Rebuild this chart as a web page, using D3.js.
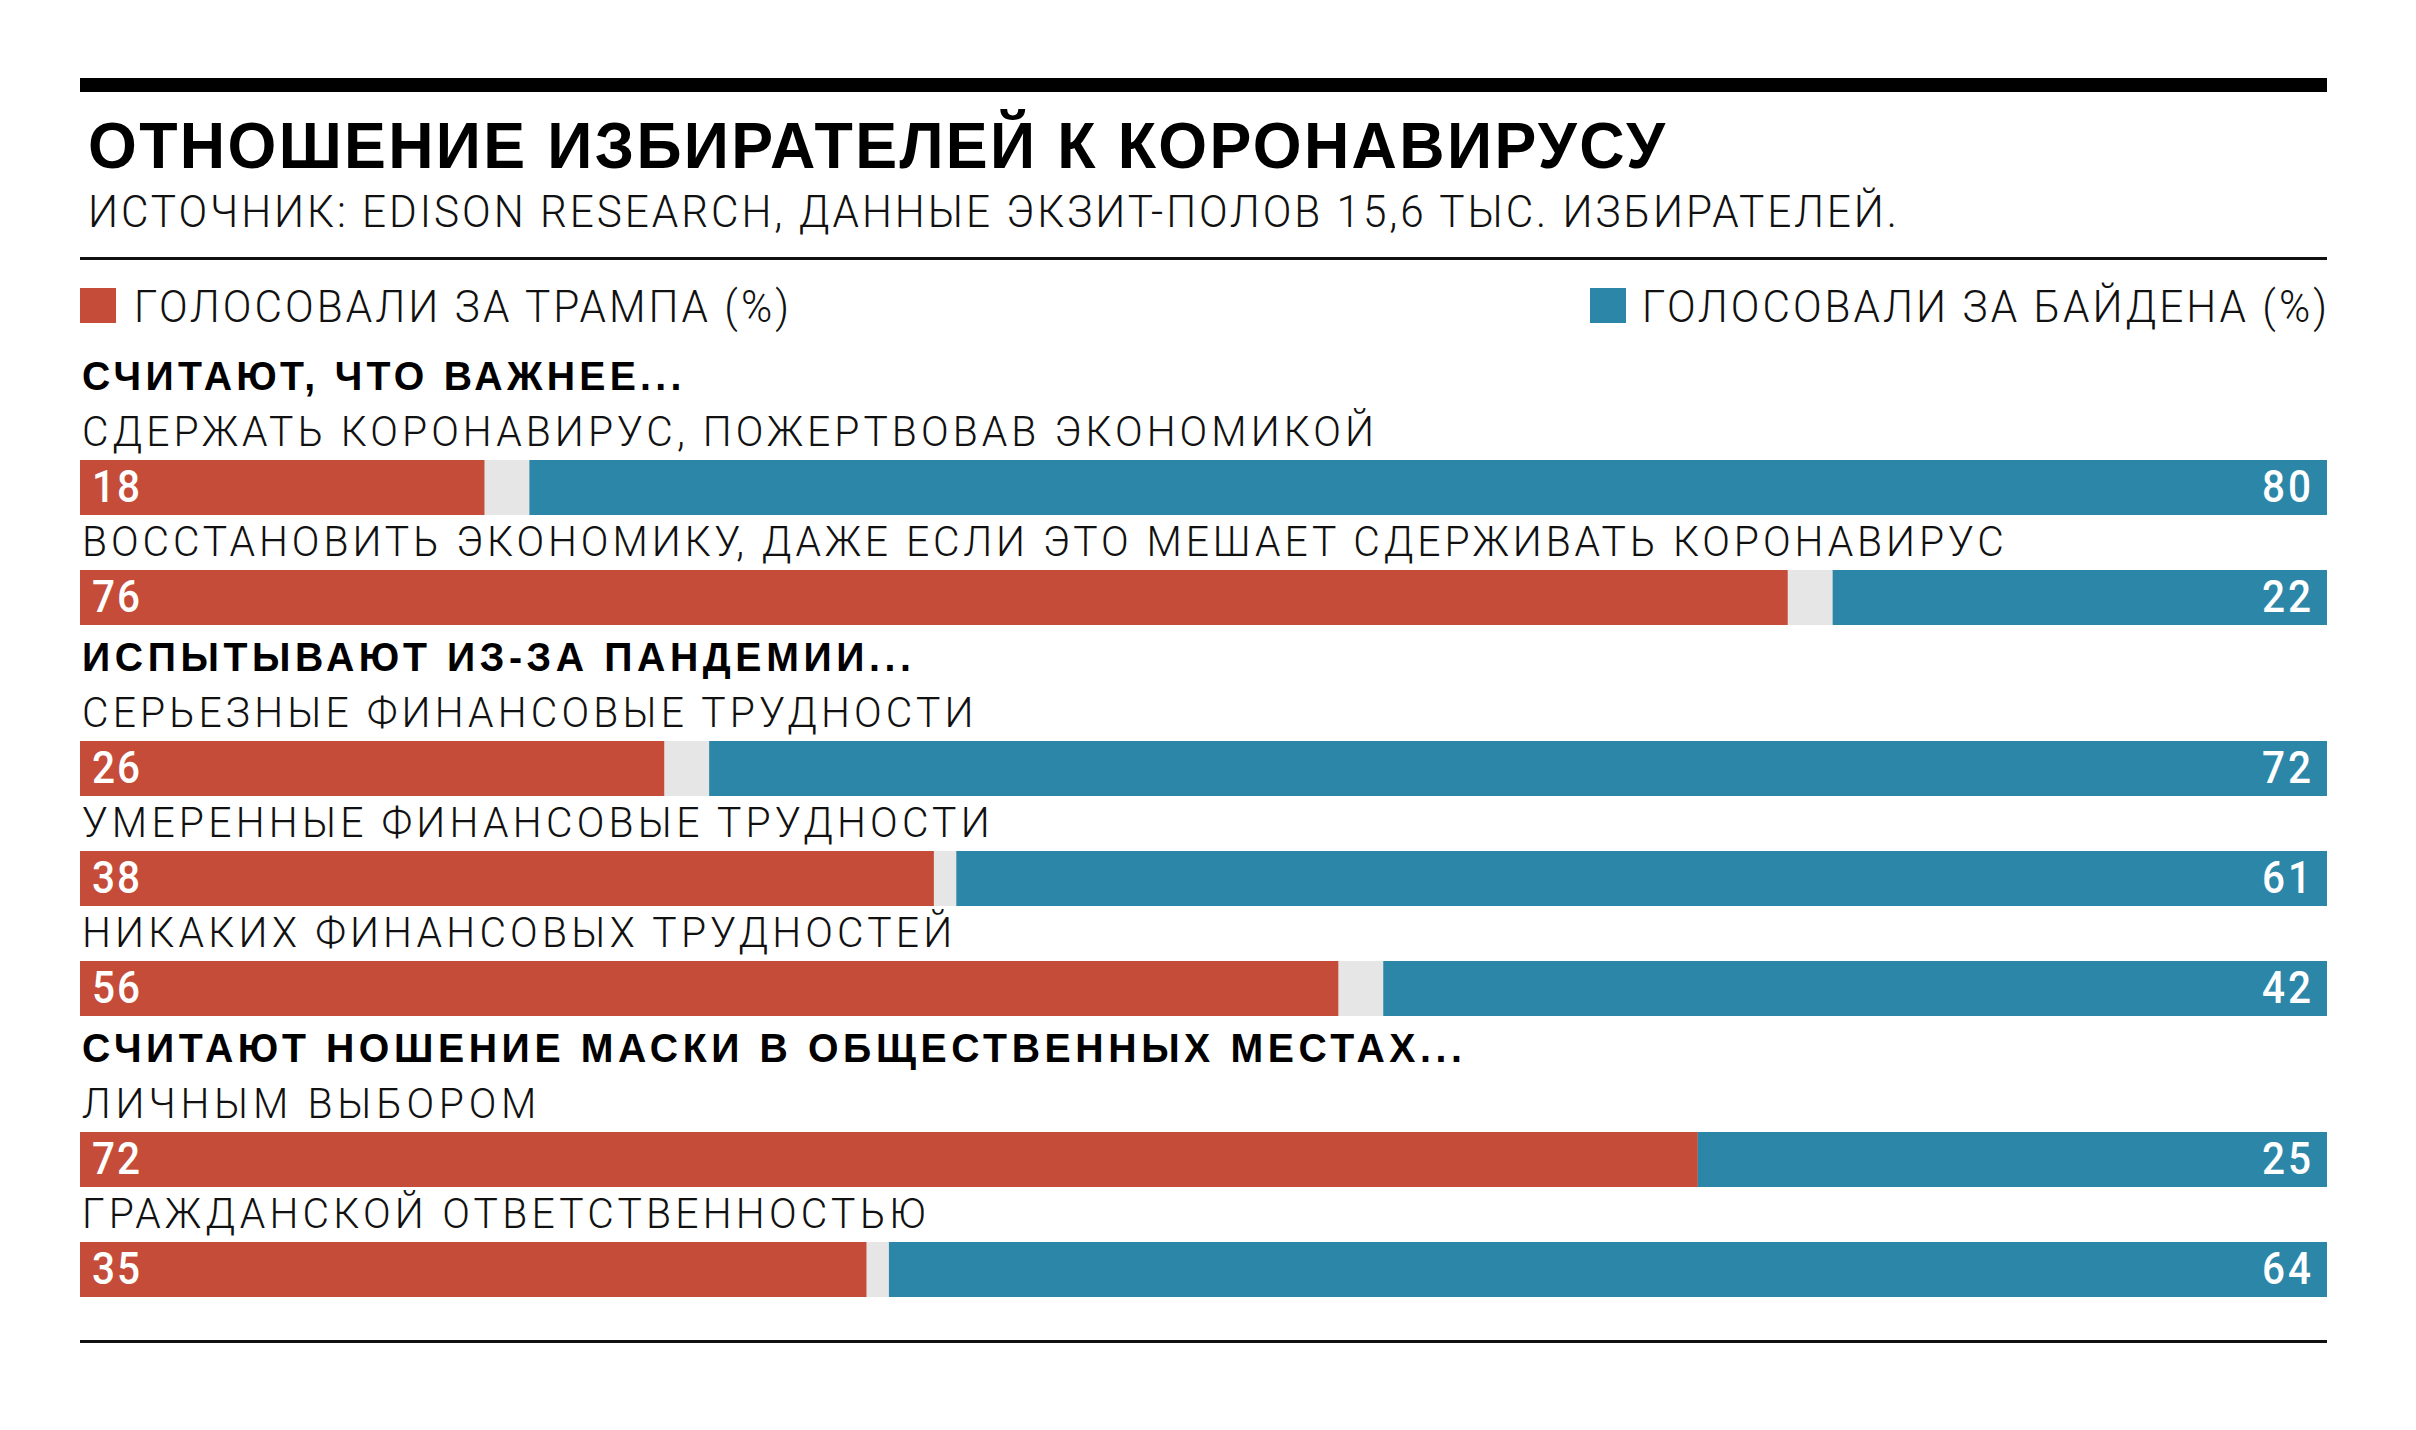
<!DOCTYPE html>
<html><head><meta charset="utf-8">
<script src="https://cdn.jsdelivr.net/npm/d3@7"></script>
<style>html,body{margin:0;padding:0;background:#fff}svg{display:block}</style>
</head><body>
<svg id="chart"></svg>
<script>
// ---------- DATA ----------
const title = "ОТНОШЕНИЕ ИЗБИРАТЕЛЕЙ К КОРОНАВИРУСУ";
const subtitle = "ИСТОЧНИК: EDISON RESEARCH, ДАННЫЕ ЭКЗИТ-ПОЛОВ 15,6 ТЫС. ИЗБИРАТЕЛЕЙ.";
const seriesNames = ["ГОЛОСОВАЛИ ЗА ТРАМПА (%)", "ГОЛОСОВАЛИ ЗА БАЙДЕНА (%)"];
const sections = [
  "СЧИТАЮТ, ЧТО ВАЖНЕЕ...",
  "ИСПЫТЫВАЮТ ИЗ-ЗА ПАНДЕМИИ...",
  "СЧИТАЮТ НОШЕНИЕ МАСКИ В ОБЩЕСТВЕННЫХ МЕСТАХ..."
];
const categories = [
  "СДЕРЖАТЬ КОРОНАВИРУС, ПОЖЕРТВОВАВ ЭКОНОМИКОЙ",
  "ВОССТАНОВИТЬ ЭКОНОМИКУ, ДАЖЕ ЕСЛИ ЭТО МЕШАЕТ СДЕРЖИВАТЬ КОРОНАВИРУС",
  "СЕРЬЕЗНЫЕ ФИНАНСОВЫЕ ТРУДНОСТИ",
  "УМЕРЕННЫЕ ФИНАНСОВЫЕ ТРУДНОСТИ",
  "НИКАКИХ ФИНАНСОВЫХ ТРУДНОСТЕЙ",
  "ЛИЧНЫМ ВЫБОРОМ",
  "ГРАЖДАНСКОЙ ОТВЕТСТВЕННОСТЬЮ"
];
const categorySection = [0, 0, 1, 1, 1, 2, 2];
const trump = [18, 76, 26, 38, 56, 72, 35];
const biden = [80, 22, 72, 61, 42, 25, 64];
const other = [2, 2, 2, 1, 2, 0, 1];   // grey gap between the two bars, as drawn

// ---------- LAYOUT ----------
const W = 2416, H = 1430;
const L = 80, R = 2327;
const RED = "#C54C38", BLUE = "#2C86A8", GREY = "#E6E6E6";
const FONT = "'Liberation Sans',Arial,Helvetica,sans-serif";
const LIGHT = "Roboto,'Liberation Sans',Arial,sans-serif";

const svg = d3.select("#chart").attr("width", W).attr("height", H)
  .style("font-family", FONT);
svg.append("rect").attr("width", W).attr("height", H).attr("fill", "#fff");

const x = d3.scaleLinear().domain([0, 100]).range([L, R]);

// condense glyphs by c, then fill to the target width with letter spacing.
function fit(sel, refIndex, targetWidth, c, xs, anchorRight) {
  const nodes = sel.nodes();
  const nat = nodes.map(n => n.getComputedTextLength());
  const k = targetWidth / (nat[refIndex] * c);
  nodes.forEach((n, i) => {
    const len = nat[i] * k;
    const d = d3.select(n).datum();
    const px = typeof xs === "function" ? xs(d, i) : xs;
    const vx = anchorRight ? px - len * c : px;
    n.setAttribute("textLength", len);
    n.setAttribute("lengthAdjust", "spacing");
    n.setAttribute("transform", `scale(${c},1)`);
    n.setAttribute("x", vx / c);
  });
}

// top thick rule
svg.append("rect").attr("x", L).attr("y", 78).attr("width", R - L).attr("height", 14).attr("fill", "#000");

// title & subtitle
const tTitle = svg.append("text").datum(title).attr("y", 168)
  .attr("font-size", 64).attr("font-weight", 700).attr("fill", "#000").text(title);
fit(tTitle, 0, 1577, 0.98, 88);
const tSub = svg.append("text").datum(subtitle).attr("y", 227)
  .style("font-family", LIGHT).attr("font-size", 45).attr("font-weight", 300).attr("fill", "#111").text(subtitle);
fit(tSub, 0, 1809, 0.94, 88);

// thin rule
svg.append("rect").attr("x", L).attr("y", 257).attr("width", R - L).attr("height", 3).attr("fill", "#111");

// legend
svg.append("rect").attr("x", L).attr("y", 288).attr("width", 36).attr("height", 35).attr("fill", RED);
svg.append("rect").attr("x", 1590).attr("y", 288).attr("width", 36).attr("height", 35).attr("fill", BLUE);
const legL = svg.append("text").datum(seriesNames[0]).attr("y", 322)
  .style("font-family", LIGHT).attr("font-size", 45).attr("font-weight", 300).attr("fill", "#111").text(seriesNames[0]);
fit(legL, 0, 655, 0.94, 134);
const legR = svg.append("text").datum(seriesNames[1]).attr("y", 322)
  .style("font-family", LIGHT).attr("font-size", 45).attr("font-weight", 300).attr("fill", "#111").text(seriesNames[1]);
fit(legR, 0, 685, 0.94, R, true);

// vertical positions (bar tops)
const barH = 55, rowPitch = 110, sectionExtra = 61;
const barTop = [];
let yCur = 460;
categories.forEach((c, i) => {
  if (i > 0) {
    yCur += rowPitch;
    if (categorySection[i] !== categorySection[i - 1]) yCur += sectionExtra;
  }
  barTop.push(yCur);
});

const rows = categories.map((c, i) => ({
  label: c, t: trump[i], b: biden[i], o: other[i], y: barTop[i], s: categorySection[i]
}));

// section headers
const firstOfSection = sections.map((s, si) => rows.find(r => r.s === si));
const hdr = svg.append("g").selectAll("text").data(sections).join("text")
  .attr("y", (d, i) => firstOfSection[i].y - 14 - 56)
  .attr("font-size", 40).attr("font-weight", 700).attr("fill", "#000")
  .text(d => d);
fit(hdr, 2, 1380, 0.98, 82);

// row labels
const lab = svg.append("g").selectAll("text").data(rows).join("text")
  .attr("y", d => d.y - 14)
  .style("font-family", LIGHT).attr("font-size", 43).attr("font-weight", 300).attr("fill", "#111")
  .text(d => d.label);
fit(lab, 0, 1292, 0.95, 82);

// bars
const bars = svg.append("g");
bars.selectAll("rect.bg").data(rows).join("rect").attr("class", "bg")
  .attr("x", x(0)).attr("y", d => d.y).attr("width", x(100) - x(0)).attr("height", barH)
  .attr("fill", GREY);
bars.selectAll("rect.tr").data(rows).join("rect").attr("class", "tr")
  .attr("x", x(0)).attr("y", d => d.y).attr("width", d => x(d.t) - x(0)).attr("height", barH)
  .attr("fill", RED);
bars.selectAll("rect.bi").data(rows).join("rect").attr("class", "bi")
  .attr("x", d => x(d.t + d.o)).attr("y", d => d.y).attr("width", d => x(100) - x(d.t + d.o)).attr("height", barH)
  .attr("fill", BLUE);

// value labels
const vL = bars.selectAll("text.vl").data(rows).join("text").attr("class", "vl")
  .attr("y", d => d.y + 42)
  .style("font-family", LIGHT).attr("font-size", 45).attr("font-weight", 500).attr("fill", "#fff")
  .text(d => d.t);
fit(vL, 0, 48, 0.9, 92);
const vR = bars.selectAll("text.vr").data(rows).join("text").attr("class", "vr")
  .attr("y", d => d.y + 42)
  .style("font-family", LIGHT).attr("font-size", 45).attr("font-weight", 500).attr("fill", "#fff")
  .text(d => d.b);
fit(vR, 0, 49, 0.9, 2311, true);

// bottom rule
svg.append("rect").attr("x", L).attr("y", 1340).attr("width", R - L).attr("height", 3).attr("fill", "#111");
</script>
</body></html>
